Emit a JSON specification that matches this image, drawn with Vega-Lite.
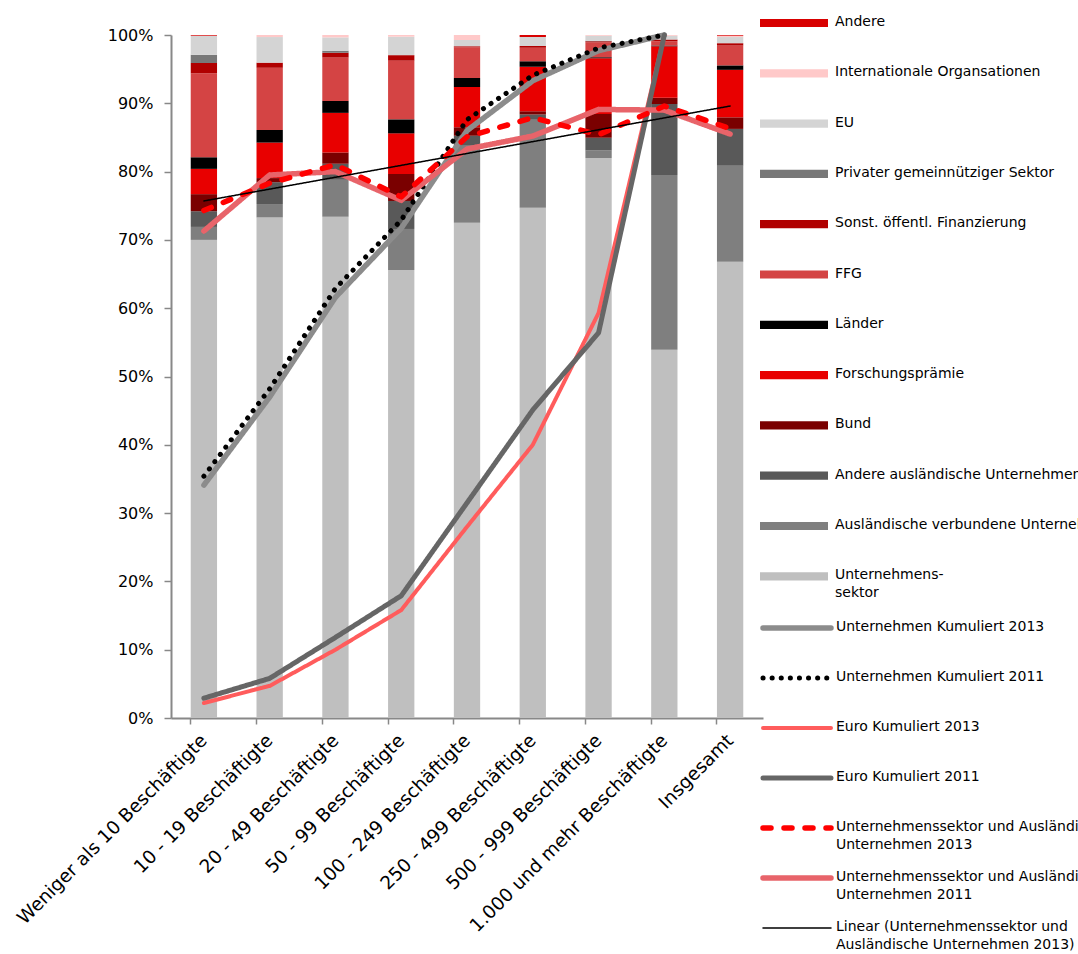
{
  "$schema": "https://vega.github.io/schema/vega-lite/v6.json",
  "width": 592,
  "height": 683,
  "autosize": {"type": "none"},
  "padding": {"left": 171, "top": 35, "right": 315, "bottom": 236},
  "config": {"view": {"stroke": null}, "font": "DejaVu Sans"},
  "datasets": {
    "srcrank": [
      {"src": "Unternehmenssektor", "rank": 1},
      {"src": "Ausländische verbundene Unternehmen", "rank": 2},
      {"src": "Andere ausländische Unternehmen", "rank": 3},
      {"src": "Bund", "rank": 4},
      {"src": "Forschungsprämie", "rank": 5},
      {"src": "Länder", "rank": 6},
      {"src": "FFG", "rank": 7},
      {"src": "Sonst. öffentl. Finanzierung", "rank": 8},
      {"src": "Privater gemeinnütziger Sektor", "rank": 9},
      {"src": "EU", "rank": 10},
      {"src": "Internationale Organsationen", "rank": 11},
      {"src": "Andere", "rank": 12}
    ],
    "bars": [
      {"cat": "Weniger als 10 Beschäftigte", "src": "Unternehmenssektor", "v": 70.0},
      {"cat": "Weniger als 10 Beschäftigte", "src": "Ausländische verbundene Unternehmen", "v": 1.9},
      {"cat": "Weniger als 10 Beschäftigte", "src": "Andere ausländische Unternehmen", "v": 2.3},
      {"cat": "Weniger als 10 Beschäftigte", "src": "Bund", "v": 2.5},
      {"cat": "Weniger als 10 Beschäftigte", "src": "Forschungsprämie", "v": 3.7},
      {"cat": "Weniger als 10 Beschäftigte", "src": "Länder", "v": 1.7},
      {"cat": "Weniger als 10 Beschäftigte", "src": "FFG", "v": 12.3},
      {"cat": "Weniger als 10 Beschäftigte", "src": "Sonst. öffentl. Finanzierung", "v": 1.5},
      {"cat": "Weniger als 10 Beschäftigte", "src": "Privater gemeinnütziger Sektor", "v": 1.2},
      {"cat": "Weniger als 10 Beschäftigte", "src": "EU", "v": 2.8},
      {"cat": "Weniger als 10 Beschäftigte", "src": "Internationale Organsationen", "v": 0.0},
      {"cat": "Weniger als 10 Beschäftigte", "src": "Andere", "v": 0.1},

      {"cat": "10 - 19 Beschäftigte", "src": "Unternehmenssektor", "v": 73.3},
      {"cat": "10 - 19 Beschäftigte", "src": "Ausländische verbundene Unternehmen", "v": 1.95},
      {"cat": "10 - 19 Beschäftigte", "src": "Andere ausländische Unternehmen", "v": 3.2},
      {"cat": "10 - 19 Beschäftigte", "src": "Bund", "v": 0.6},
      {"cat": "10 - 19 Beschäftigte", "src": "Forschungsprämie", "v": 5.2},
      {"cat": "10 - 19 Beschäftigte", "src": "Länder", "v": 1.85},
      {"cat": "10 - 19 Beschäftigte", "src": "FFG", "v": 9.1},
      {"cat": "10 - 19 Beschäftigte", "src": "Sonst. öffentl. Finanzierung", "v": 0.75},
      {"cat": "10 - 19 Beschäftigte", "src": "Privater gemeinnütziger Sektor", "v": 0.0},
      {"cat": "10 - 19 Beschäftigte", "src": "EU", "v": 3.75},
      {"cat": "10 - 19 Beschäftigte", "src": "Internationale Organsationen", "v": 0.3},
      {"cat": "10 - 19 Beschäftigte", "src": "Andere", "v": 0.0},

      {"cat": "20 - 49 Beschäftigte", "src": "Unternehmenssektor", "v": 73.4},
      {"cat": "20 - 49 Beschäftigte", "src": "Ausländische verbundene Unternehmen", "v": 5.4},
      {"cat": "20 - 49 Beschäftigte", "src": "Andere ausländische Unternehmen", "v": 2.35},
      {"cat": "20 - 49 Beschäftigte", "src": "Bund", "v": 1.65},
      {"cat": "20 - 49 Beschäftigte", "src": "Forschungsprämie", "v": 5.8},
      {"cat": "20 - 49 Beschäftigte", "src": "Länder", "v": 1.75},
      {"cat": "20 - 49 Beschäftigte", "src": "FFG", "v": 6.35},
      {"cat": "20 - 49 Beschäftigte", "src": "Sonst. öffentl. Finanzierung", "v": 0.7},
      {"cat": "20 - 49 Beschäftigte", "src": "Privater gemeinnütziger Sektor", "v": 0.3},
      {"cat": "20 - 49 Beschäftigte", "src": "EU", "v": 1.95},
      {"cat": "20 - 49 Beschäftigte", "src": "Internationale Organsationen", "v": 0.35},
      {"cat": "20 - 49 Beschäftigte", "src": "Andere", "v": 0.0},

      {"cat": "50 - 99 Beschäftigte", "src": "Unternehmenssektor", "v": 65.6},
      {"cat": "50 - 99 Beschäftigte", "src": "Ausländische verbundene Unternehmen", "v": 6.0},
      {"cat": "50 - 99 Beschäftigte", "src": "Andere ausländische Unternehmen", "v": 4.1},
      {"cat": "50 - 99 Beschäftigte", "src": "Bund", "v": 3.95},
      {"cat": "50 - 99 Beschäftigte", "src": "Forschungsprämie", "v": 5.95},
      {"cat": "50 - 99 Beschäftigte", "src": "Länder", "v": 2.05},
      {"cat": "50 - 99 Beschäftigte", "src": "FFG", "v": 8.6},
      {"cat": "50 - 99 Beschäftigte", "src": "Sonst. öffentl. Finanzierung", "v": 0.8},
      {"cat": "50 - 99 Beschäftigte", "src": "Privater gemeinnütziger Sektor", "v": 0.0},
      {"cat": "50 - 99 Beschäftigte", "src": "EU", "v": 2.7},
      {"cat": "50 - 99 Beschäftigte", "src": "Internationale Organsationen", "v": 0.25},
      {"cat": "50 - 99 Beschäftigte", "src": "Andere", "v": 0.0},

      {"cat": "100 - 249 Beschäftigte", "src": "Unternehmenssektor", "v": 72.5},
      {"cat": "100 - 249 Beschäftigte", "src": "Ausländische verbundene Unternehmen", "v": 11.3},
      {"cat": "100 - 249 Beschäftigte", "src": "Andere ausländische Unternehmen", "v": 1.45},
      {"cat": "100 - 249 Beschäftigte", "src": "Bund", "v": 1.25},
      {"cat": "100 - 249 Beschäftigte", "src": "Forschungsprämie", "v": 5.9},
      {"cat": "100 - 249 Beschäftigte", "src": "Länder", "v": 1.3},
      {"cat": "100 - 249 Beschäftigte", "src": "FFG", "v": 4.5},
      {"cat": "100 - 249 Beschäftigte", "src": "Sonst. öffentl. Finanzierung", "v": 0.15},
      {"cat": "100 - 249 Beschäftigte", "src": "Privater gemeinnütziger Sektor", "v": 0.0},
      {"cat": "100 - 249 Beschäftigte", "src": "EU", "v": 0.9},
      {"cat": "100 - 249 Beschäftigte", "src": "Internationale Organsationen", "v": 0.75},
      {"cat": "100 - 249 Beschäftigte", "src": "Andere", "v": 0.0},

      {"cat": "250 - 499 Beschäftigte", "src": "Unternehmenssektor", "v": 74.7},
      {"cat": "250 - 499 Beschäftigte", "src": "Ausländische verbundene Unternehmen", "v": 12.9},
      {"cat": "250 - 499 Beschäftigte", "src": "Andere ausländische Unternehmen", "v": 0.75},
      {"cat": "250 - 499 Beschäftigte", "src": "Bund", "v": 0.5},
      {"cat": "250 - 499 Beschäftigte", "src": "Forschungsprämie", "v": 6.5},
      {"cat": "250 - 499 Beschäftigte", "src": "Länder", "v": 0.8},
      {"cat": "250 - 499 Beschäftigte", "src": "FFG", "v": 2.0},
      {"cat": "250 - 499 Beschäftigte", "src": "Sonst. öffentl. Finanzierung", "v": 0.25},
      {"cat": "250 - 499 Beschäftigte", "src": "Privater gemeinnütziger Sektor", "v": 0.0},
      {"cat": "250 - 499 Beschäftigte", "src": "EU", "v": 1.3},
      {"cat": "250 - 499 Beschäftigte", "src": "Internationale Organsationen", "v": 0.0},
      {"cat": "250 - 499 Beschäftigte", "src": "Andere", "v": 0.3},

      {"cat": "500 - 999 Beschäftigte", "src": "Unternehmenssektor", "v": 82.0},
      {"cat": "500 - 999 Beschäftigte", "src": "Ausländische verbundene Unternehmen", "v": 1.1},
      {"cat": "500 - 999 Beschäftigte", "src": "Andere ausländische Unternehmen", "v": 1.85},
      {"cat": "500 - 999 Beschäftigte", "src": "Bund", "v": 3.5},
      {"cat": "500 - 999 Beschäftigte", "src": "Forschungsprämie", "v": 8.15},
      {"cat": "500 - 999 Beschäftigte", "src": "Länder", "v": 0.15},
      {"cat": "500 - 999 Beschäftigte", "src": "FFG", "v": 2.2},
      {"cat": "500 - 999 Beschäftigte", "src": "Sonst. öffentl. Finanzierung", "v": 0.15},
      {"cat": "500 - 999 Beschäftigte", "src": "Privater gemeinnütziger Sektor", "v": 0.05},
      {"cat": "500 - 999 Beschäftigte", "src": "EU", "v": 0.75},
      {"cat": "500 - 999 Beschäftigte", "src": "Internationale Organsationen", "v": 0.1},
      {"cat": "500 - 999 Beschäftigte", "src": "Andere", "v": 0.0},

      {"cat": "1.000 und mehr Beschäftigte", "src": "Unternehmenssektor", "v": 53.9},
      {"cat": "1.000 und mehr Beschäftigte", "src": "Ausländische verbundene Unternehmen", "v": 25.6},
      {"cat": "1.000 und mehr Beschäftigte", "src": "Andere ausländische Unternehmen", "v": 10.4},
      {"cat": "1.000 und mehr Beschäftigte", "src": "Bund", "v": 0.9},
      {"cat": "1.000 und mehr Beschäftigte", "src": "Forschungsprämie", "v": 7.55},
      {"cat": "1.000 und mehr Beschäftigte", "src": "Länder", "v": 0.1},
      {"cat": "1.000 und mehr Beschäftigte", "src": "FFG", "v": 0.65},
      {"cat": "1.000 und mehr Beschäftigte", "src": "Sonst. öffentl. Finanzierung", "v": 0.25},
      {"cat": "1.000 und mehr Beschäftigte", "src": "Privater gemeinnütziger Sektor", "v": 0.0},
      {"cat": "1.000 und mehr Beschäftigte", "src": "EU", "v": 0.55},
      {"cat": "1.000 und mehr Beschäftigte", "src": "Internationale Organsationen", "v": 0.1},
      {"cat": "1.000 und mehr Beschäftigte", "src": "Andere", "v": 0.0},

      {"cat": "Insgesamt", "src": "Unternehmenssektor", "v": 66.8},
      {"cat": "Insgesamt", "src": "Ausländische verbundene Unternehmen", "v": 14.05},
      {"cat": "Insgesamt", "src": "Andere ausländische Unternehmen", "v": 5.4},
      {"cat": "Insgesamt", "src": "Bund", "v": 1.7},
      {"cat": "Insgesamt", "src": "Forschungsprämie", "v": 6.95},
      {"cat": "Insgesamt", "src": "Länder", "v": 0.65},
      {"cat": "Insgesamt", "src": "FFG", "v": 2.9},
      {"cat": "Insgesamt", "src": "Sonst. öffentl. Finanzierung", "v": 0.35},
      {"cat": "Insgesamt", "src": "Privater gemeinnütziger Sektor", "v": 0.0},
      {"cat": "Insgesamt", "src": "EU", "v": 0.9},
      {"cat": "Insgesamt", "src": "Internationale Organsationen", "v": 0.2},
      {"cat": "Insgesamt", "src": "Andere", "v": 0.1}
    ],
    "lines": [
      {"cat": "Weniger als 10 Beschäftigte", "series": "Unternehmen Kumuliert 2013", "v": 34.1},
      {"cat": "10 - 19 Beschäftigte", "series": "Unternehmen Kumuliert 2013", "v": 47.0},
      {"cat": "20 - 49 Beschäftigte", "series": "Unternehmen Kumuliert 2013", "v": 61.6},
      {"cat": "50 - 99 Beschäftigte", "series": "Unternehmen Kumuliert 2013", "v": 71.7},
      {"cat": "100 - 249 Beschäftigte", "series": "Unternehmen Kumuliert 2013", "v": 86.0},
      {"cat": "250 - 499 Beschäftigte", "series": "Unternehmen Kumuliert 2013", "v": 93.3},
      {"cat": "500 - 999 Beschäftigte", "series": "Unternehmen Kumuliert 2013", "v": 97.7},
      {"cat": "1.000 und mehr Beschäftigte", "series": "Unternehmen Kumuliert 2013", "v": 100},

      {"cat": "Weniger als 10 Beschäftigte", "series": "Unternehmen Kumuliert 2011", "v": 35.4},
      {"cat": "10 - 19 Beschäftigte", "series": "Unternehmen Kumuliert 2011", "v": 48.2},
      {"cat": "20 - 49 Beschäftigte", "series": "Unternehmen Kumuliert 2011", "v": 62.9},
      {"cat": "50 - 99 Beschäftigte", "series": "Unternehmen Kumuliert 2011", "v": 72.9},
      {"cat": "100 - 249 Beschäftigte", "series": "Unternehmen Kumuliert 2011", "v": 87.6},
      {"cat": "250 - 499 Beschäftigte", "series": "Unternehmen Kumuliert 2011", "v": 94.1},
      {"cat": "500 - 999 Beschäftigte", "series": "Unternehmen Kumuliert 2011", "v": 98.1},
      {"cat": "1.000 und mehr Beschäftigte", "series": "Unternehmen Kumuliert 2011", "v": 100},

      {"cat": "Weniger als 10 Beschäftigte", "series": "Euro Kumuliert 2013", "v": 2.2},
      {"cat": "10 - 19 Beschäftigte", "series": "Euro Kumuliert 2013", "v": 4.7},
      {"cat": "20 - 49 Beschäftigte", "series": "Euro Kumuliert 2013", "v": 10.0},
      {"cat": "50 - 99 Beschäftigte", "series": "Euro Kumuliert 2013", "v": 15.8},
      {"cat": "100 - 249 Beschäftigte", "series": "Euro Kumuliert 2013", "v": 28.0},
      {"cat": "250 - 499 Beschäftigte", "series": "Euro Kumuliert 2013", "v": 40.0},
      {"cat": "500 - 999 Beschäftigte", "series": "Euro Kumuliert 2013", "v": 59.3},
      {"cat": "1.000 und mehr Beschäftigte", "series": "Euro Kumuliert 2013", "v": 100},

      {"cat": "Weniger als 10 Beschäftigte", "series": "Euro Kumuliert 2011", "v": 2.9},
      {"cat": "10 - 19 Beschäftigte", "series": "Euro Kumuliert 2011", "v": 5.8},
      {"cat": "20 - 49 Beschäftigte", "series": "Euro Kumuliert 2011", "v": 11.8},
      {"cat": "50 - 99 Beschäftigte", "series": "Euro Kumuliert 2011", "v": 17.9},
      {"cat": "100 - 249 Beschäftigte", "series": "Euro Kumuliert 2011", "v": 31.5},
      {"cat": "250 - 499 Beschäftigte", "series": "Euro Kumuliert 2011", "v": 45.1},
      {"cat": "500 - 999 Beschäftigte", "series": "Euro Kumuliert 2011", "v": 56.4},
      {"cat": "1.000 und mehr Beschäftigte", "series": "Euro Kumuliert 2011", "v": 100},

      {"cat": "Weniger als 10 Beschäftigte", "series": "Unternehmenssektor und Ausländische|Unternehmen 2011", "v": 71.3},
      {"cat": "10 - 19 Beschäftigte", "series": "Unternehmenssektor und Ausländische|Unternehmen 2011", "v": 79.5},
      {"cat": "20 - 49 Beschäftigte", "series": "Unternehmenssektor und Ausländische|Unternehmen 2011", "v": 80.0},
      {"cat": "50 - 99 Beschäftigte", "series": "Unternehmenssektor und Ausländische|Unternehmen 2011", "v": 75.8},
      {"cat": "100 - 249 Beschäftigte", "series": "Unternehmenssektor und Ausländische|Unternehmen 2011", "v": 83.3},
      {"cat": "250 - 499 Beschäftigte", "series": "Unternehmenssektor und Ausländische|Unternehmen 2011", "v": 85.2},
      {"cat": "500 - 999 Beschäftigte", "series": "Unternehmenssektor und Ausländische|Unternehmen 2011", "v": 89.1},
      {"cat": "1.000 und mehr Beschäftigte", "series": "Unternehmenssektor und Ausländische|Unternehmen 2011", "v": 89.0},
      {"cat": "Insgesamt", "series": "Unternehmenssektor und Ausländische|Unternehmen 2011", "v": 85.5},

      {"cat": "Weniger als 10 Beschäftigte", "series": "Unternehmenssektor und Ausländische|Unternehmen 2013", "v": 74.3},
      {"cat": "10 - 19 Beschäftigte", "series": "Unternehmenssektor und Ausländische|Unternehmen 2013", "v": 78.3},
      {"cat": "20 - 49 Beschäftigte", "series": "Unternehmenssektor und Ausländische|Unternehmen 2013", "v": 81.0},
      {"cat": "50 - 99 Beschäftigte", "series": "Unternehmenssektor und Ausländische|Unternehmen 2013", "v": 76.3},
      {"cat": "100 - 249 Beschäftigte", "series": "Unternehmenssektor und Ausländische|Unternehmen 2013", "v": 85.1},
      {"cat": "250 - 499 Beschäftigte", "series": "Unternehmenssektor und Ausländische|Unternehmen 2013", "v": 87.9},
      {"cat": "500 - 999 Beschäftigte", "series": "Unternehmenssektor und Ausländische|Unternehmen 2013", "v": 85.4},
      {"cat": "1.000 und mehr Beschäftigte", "series": "Unternehmenssektor und Ausländische|Unternehmen 2013", "v": 89.6},
      {"cat": "Insgesamt", "series": "Unternehmenssektor und Ausländische|Unternehmen 2013", "v": 86.3},

      {"cat": "Weniger als 10 Beschäftigte", "series": "Linear (Unternehmenssektor und|Ausländische Unternehmen 2013)", "v": 75.7},
      {"cat": "Insgesamt", "series": "Linear (Unternehmenssektor und|Ausländische Unternehmen 2013)", "v": 89.6}
    ]
  },
  "layer": [
    {
      "data": {"name": "bars"},
      "transform": [
        {"lookup": "src", "from": {"data": {"name": "srcrank"}, "key": "src", "fields": ["rank"]}}
      ],
      "mark": {"type": "bar"},
      "encoding": {
        "x": {
          "field": "cat", "type": "nominal",
          "sort": ["Weniger als 10 Beschäftigte", "10 - 19 Beschäftigte", "20 - 49 Beschäftigte", "50 - 99 Beschäftigte", "100 - 249 Beschäftigte", "250 - 499 Beschäftigte", "500 - 999 Beschäftigte", "1.000 und mehr Beschäftigte", "Insgesamt"],
          "scale": {"paddingInner": 0.6, "paddingOuter": 0.3},
          "axis": {
            "title": null, "labelAngle": -45, "labelAlign": "right", "labelBaseline": "middle",
            "bandPosition": 0, "labelPadding": 13,
            "tickSize": 6, "tickColor": "#888888", "tickWidth": 1.5,
            "domainColor": "#888888", "domainWidth": 2,
            "labelFontSize": 18.5, "labelColor": "#000000", "labelLimit": 400
          }
        },
        "y": {
          "field": "v", "type": "quantitative", "stack": "zero",
          "scale": {"domain": [0, 100], "nice": false},
          "axis": {
            "title": null, "values": [0, 10, 20, 30, 40, 50, 60, 70, 80, 90, 100],
            "labelExpr": "datum.value + '%'", "grid": false,
            "tickSize": 7, "tickColor": "#888888", "tickWidth": 1.5,
            "domainColor": "#888888", "domainWidth": 2,
            "labelFontSize": 16, "labelColor": "#000000", "labelPadding": 11
          }
        },
        "order": {"field": "rank", "type": "quantitative", "sort": "ascending"},
        "color": {
          "field": "src", "type": "nominal",
          "sort": ["Andere", "Internationale Organsationen", "EU", "Privater gemeinnütziger Sektor", "Sonst. öffentl. Finanzierung", "FFG", "Länder", "Forschungsprämie", "Bund", "Andere ausländische Unternehmen", "Ausländische verbundene Unternehmen", "Unternehmenssektor"],
          "scale": {
            "domain": ["Andere", "Internationale Organsationen", "EU", "Privater gemeinnütziger Sektor", "Sonst. öffentl. Finanzierung", "FFG", "Länder", "Forschungsprämie", "Bund", "Andere ausländische Unternehmen", "Ausländische verbundene Unternehmen", "Unternehmenssektor"],
            "range": ["#d80000", "#ffc9c9", "#d4d4d4", "#787878", "#b00000", "#d44444", "#000000", "#e80000", "#7a0000", "#595959", "#7f7f7f", "#bfbfbf"]
          },
          "legend": {
            "title": null, "orient": "none", "legendX": 589, "legendY": -46, "padding": 0,
            "symbolType": "M-1,-0.12H1V0.12H-1Z", "symbolSize": 4624, "symbolStrokeWidth": 0,
            "labelFontSize": 14, "labelColor": "#000000", "labelLimit": 600, "labelOffset": 7,
            "labelBaseline": "top", "rowPadding": 10.3,
            "labelExpr": "datum.label == 'Unternehmenssektor' ? ['Unternehmens-', 'sektor'] : datum.label",
            "encode": {"labels": {"update": {"dy": {"value": -8}, "lineHeight": {"value": 18}}}}
          }
        }
      }
    },
    {
      "data": {"name": "lines"},
      "mark": {"type": "line", "strokeCap": "round", "strokeJoin": "round"},
      "encoding": {
        "x": {"field": "cat", "type": "nominal", "sort": ["Weniger als 10 Beschäftigte", "10 - 19 Beschäftigte", "20 - 49 Beschäftigte", "50 - 99 Beschäftigte", "100 - 249 Beschäftigte", "250 - 499 Beschäftigte", "500 - 999 Beschäftigte", "1.000 und mehr Beschäftigte", "Insgesamt"]},
        "y": {"field": "v", "type": "quantitative"},
        "stroke": {
          "field": "series", "type": "nominal",
          "scale": {
            "domain": ["Unternehmen Kumuliert 2013", "Unternehmen Kumuliert 2011", "Euro Kumuliert 2013", "Euro Kumuliert 2011", "Unternehmenssektor und Ausländische|Unternehmen 2013", "Unternehmenssektor und Ausländische|Unternehmen 2011", "Linear (Unternehmenssektor und|Ausländische Unternehmen 2013)"],
            "range": ["#8c8c8c", "#000000", "#ff5c5c", "#666666", "#ff0000", "#e8646a", "#000000"]
          },
          "legend": {
            "title": null, "orient": "none", "legendX": 589, "legendY": 585, "padding": 0,
            "symbolType": "stroke", "symbolSize": 4624, "clipHeight": 16,
            "labelFontSize": 14, "labelColor": "#000000", "labelLimit": 600, "labelOffset": 2,
            "labelBaseline": "top", "rowPadding": 18, "gridAlign": "all",
            "labelExpr": "split(datum.label, '|')",
            "encode": {"labels": {"update": {"dy": {"value": -8}, "lineHeight": {"value": 18}}}, "symbols": {"update": {"strokeCap": {"value": "round"}}}}
          }
        },
        "strokeDash": {
          "field": "series", "type": "nominal",
          "scale": {
            "domain": ["Unternehmen Kumuliert 2013", "Unternehmen Kumuliert 2011", "Euro Kumuliert 2013", "Euro Kumuliert 2011", "Unternehmenssektor und Ausländische|Unternehmen 2013", "Unternehmenssektor und Ausländische|Unternehmen 2011", "Linear (Unternehmenssektor und|Ausländische Unternehmen 2013)"],
            "range": [[1, 0], [0.1, 9], [1, 0], [1, 0], [8, 13], [1, 0], [1, 0]]
          },
          "legend": null
        },
        "strokeWidth": {
          "field": "series", "type": "nominal",
          "scale": {
            "type": "ordinal",
            "domain": ["Unternehmen Kumuliert 2013", "Unternehmen Kumuliert 2011", "Euro Kumuliert 2013", "Euro Kumuliert 2011", "Unternehmenssektor und Ausländische|Unternehmen 2013", "Unternehmenssektor und Ausländische|Unternehmen 2011", "Linear (Unternehmenssektor und|Ausländische Unternehmen 2013)"],
            "range": [5.5, 5, 4, 5, 5.5, 5.5, 1.5]
          },
          "legend": null
        }
      }
    }
  ]
}
